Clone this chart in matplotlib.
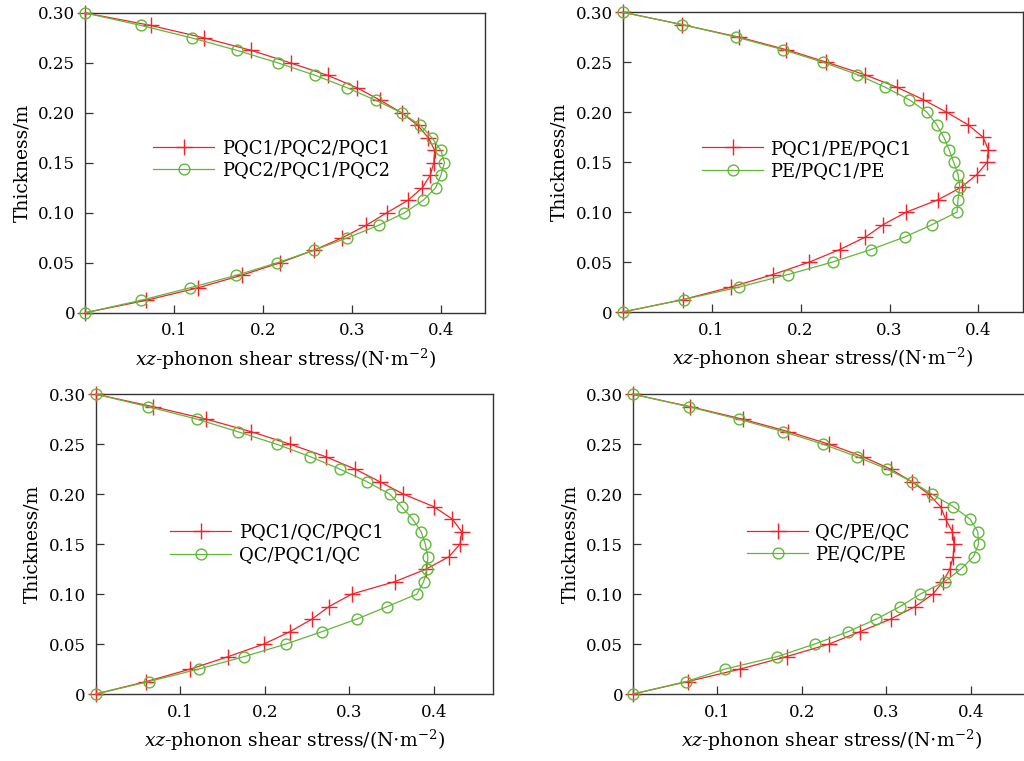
import matplotlib
matplotlib.use('Agg')
import matplotlib.pyplot as plt

# espesor (m), puntos cada 0.0125
thickness = [0.3, 0.2875, 0.275, 0.2625, 0.25, 0.2375, 0.225, 0.2125, 0.2, 0.1875,
             0.175, 0.1625, 0.15, 0.1375, 0.125, 0.1125, 0.1, 0.0875, 0.075, 0.0625,
             0.05, 0.0375, 0.025, 0.0125, 0.0]

# panel a
a_labels = ['PQC1/PQC2/PQC1', 'PQC2/PQC1/PQC2']
a_red = [0.0, 0.074, 0.134, 0.187, 0.231, 0.273, 0.306, 0.332, 0.356, 0.374,
         0.386, 0.393, 0.392, 0.388, 0.379, 0.363, 0.339, 0.316, 0.289, 0.257,
         0.219, 0.176, 0.127, 0.069, 0.0]
a_green = [0.0, 0.063, 0.120, 0.171, 0.217, 0.259, 0.295, 0.327, 0.356, 0.377,
           0.390, 0.400, 0.404, 0.400, 0.394, 0.380, 0.359, 0.330, 0.295, 0.257,
           0.216, 0.170, 0.118, 0.063, 0.0]

# panel b
b_labels = ['PQC1/PE/PQC1', 'PE/PQC1/PE']
b_red = [0.0, 0.067, 0.131, 0.184, 0.229, 0.272, 0.308, 0.338, 0.364, 0.388,
         0.405, 0.411, 0.410, 0.398, 0.381, 0.355, 0.319, 0.293, 0.273, 0.244,
         0.210, 0.169, 0.122, 0.068, 0.0]
b_green = [0.0, 0.067, 0.128, 0.180, 0.225, 0.264, 0.295, 0.322, 0.342, 0.353,
           0.361, 0.367, 0.372, 0.377, 0.379, 0.377, 0.376, 0.348, 0.317, 0.279,
           0.236, 0.186, 0.131, 0.069, 0.0]

# panel c
c_labels = ['PQC1/QC/PQC1', 'QC/PQC1/QC']
c_red = [0.0, 0.068, 0.131, 0.184, 0.230, 0.272, 0.307, 0.336, 0.364, 0.400,
         0.422, 0.433, 0.431, 0.418, 0.391, 0.354, 0.303, 0.276, 0.256, 0.230,
         0.199, 0.157, 0.112, 0.060, 0.0]
c_green = [0.0, 0.062, 0.120, 0.168, 0.214, 0.254, 0.289, 0.321, 0.348, 0.362,
           0.375, 0.385, 0.390, 0.393, 0.392, 0.388, 0.380, 0.345, 0.309, 0.268,
           0.225, 0.176, 0.122, 0.063, 0.0]

# panel d
d_labels = ['QC/PE/QC', 'PE/QC/PE']
d_red = [0.0, 0.068, 0.130, 0.184, 0.232, 0.272, 0.305, 0.330, 0.350, 0.364,
         0.370, 0.378, 0.380, 0.379, 0.375, 0.367, 0.355, 0.334, 0.305, 0.269,
         0.232, 0.182, 0.127, 0.065, 0.0]
d_green = [0.0, 0.066, 0.125, 0.178, 0.225, 0.265, 0.301, 0.330, 0.354, 0.379,
           0.399, 0.408, 0.409, 0.403, 0.388, 0.369, 0.340, 0.316, 0.288, 0.255,
           0.215, 0.171, 0.109, 0.063, 0.0]

y_ticks = [0, 0.05, 0.10, 0.15, 0.20, 0.25, 0.30]
y_ticklabels = ['0', '0.05', '0.10', '0.15', '0.20', '0.25', '0.30']
x_ticks = [0.1, 0.2, 0.3, 0.4]
x_ticklabels = ['0.1', '0.2', '0.3', '0.4']

RED = '#f2222a'
GREEN = '#62b73b'

plt.rcParams['font.family'] = ['DejaVu Serif']
plt.rcParams['mathtext.fontset'] = 'dejavuserif'


def draw_panel(fig, rect, red, green, labels, xmax, leg_xy):
    ax = fig.add_axes(rect)
    ax.plot(red, thickness, color=RED, lw=0.9, marker='+', ms=11, mew=1.0,
            label=labels[0], clip_on=False, zorder=3)
    ax.plot(green, thickness, color=GREEN, lw=0.9, marker='o', ms=7.8, mew=1.0,
            mfc='none', label=labels[1], clip_on=False, zorder=3)
    ax.set_xlim(0, xmax)
    ax.set_ylim(0, 0.30)
    ax.set_xticks(x_ticks)
    ax.set_xticklabels(x_ticklabels)
    ax.set_yticks(y_ticks)
    ax.set_yticklabels(y_ticklabels)
    ax.tick_params(direction='in', length=6, width=0.9, labelsize=12,
                   color='#333333', pad=7)
    for s in ax.spines.values():
        s.set_color('#333333')
        s.set_linewidth(1.0)
    ax.set_xlabel(r'$xz$-phonon shear stress/(N$\cdot$m$^{-2}$)', fontsize=13.5, labelpad=5)
    ax.set_ylabel('Thickness/m', fontsize=13.5, labelpad=5)
    ax.legend(loc='center left', bbox_to_anchor=leg_xy, frameon=False, fontsize=13,
              borderpad=0, borderaxespad=0, handlelength=3.4, handletextpad=0.4,
              labelspacing=0.25)
    return ax


def generate_chart():
    fig = plt.figure(figsize=(10.24, 7.61), dpi=100)

    draw_panel(fig, [0.083, 0.589, 0.391, 0.394], a_red, a_green, a_labels, 0.45, (0.17, 0.512))
    draw_panel(fig, [0.608, 0.590, 0.391, 0.394], b_red, b_green, b_labels, 0.45, (0.198, 0.507))
    draw_panel(fig, [0.0934, 0.088, 0.388, 0.394], c_red, c_green, c_labels, 0.47, (0.187, 0.501))
    draw_panel(fig, [0.618, 0.088, 0.388, 0.394], d_red, d_green, d_labels, 0.47, (0.287, 0.503))

    fig.savefig('out.png', dpi=100)
    plt.close(fig)


def run():
    generate_chart()


if __name__ == '__main__':
    run()
